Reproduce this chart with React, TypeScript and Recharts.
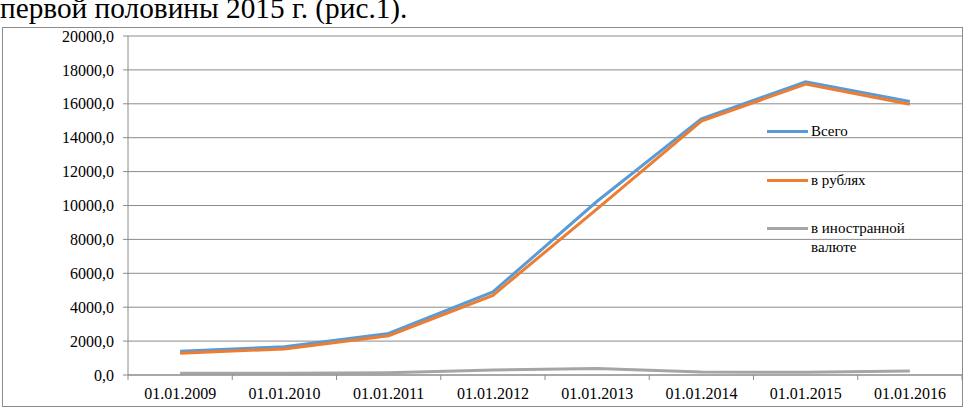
import React from 'react';
import { LineChart, Line, XAxis, YAxis, CartesianGrid } from 'recharts';

const dates = [
  '01.01.2009',
  '01.01.2010',
  '01.01.2011',
  '01.01.2012',
  '01.01.2013',
  '01.01.2014',
  '01.01.2015',
  '01.01.2016',
];
const totalValues = [1400, 1670, 2450, 4900, 10250, 15120, 17300, 16130];
const rubleValues = [1290, 1540, 2320, 4700, 9800, 14980, 17170, 15970];
const foreignValues = [100, 110, 140, 300, 380, 170, 160, 230];
const yTicks = [0, 2000, 4000, 6000, 8000, 10000, 12000, 14000, 16000, 18000, 20000];

const seriesList = [
  { key: 'total', name: 'Всего', color: '#5B9BD5' },
  { key: 'rub', name: 'в рублях', color: '#ED7D31' },
  { key: 'foreign', name: 'в иностранной валюте', color: '#A5A5A5' },
];

const data = dates.map((d, i) => ({
  date: d,
  total: totalValues[i],
  rub: rubleValues[i],
  foreign: foreignValues[i],
}));

const FONT = 'Liberation Serif, Times New Roman, serif';
const AXIS_COLOR = '#8c8c8c';

const W = 965;
const H = 407;
const PLOT_LEFT = 128;
const PLOT_RIGHT = 962;
const PLOT_TOP = 36;
const PLOT_BOTTOM = 375;
const band = (PLOT_RIGHT - PLOT_LEFT) / dates.length;

function XTick({ x, y, payload }: any) {
  const left = x - band / 2;
  return (
    <g>
      <line x1={left} y1={y} x2={left} y2={y + 5} stroke={AXIS_COLOR} />
      {payload.index === dates.length - 1 && (
        <line x1={left + band} y1={y} x2={left + band} y2={y + 5} stroke={AXIS_COLOR} />
      )}
      <text x={x} y={y + 24} textAnchor="middle" fontSize={16} style={{ fontFamily: FONT }} fill="#000">
        {payload.value}
      </text>
    </g>
  );
}

function YTick({ x, y, payload }: any) {
  return (
    <text x={x} y={y} dy="0.355em" textAnchor="end" fontSize={16} style={{ fontFamily: FONT }} fill="#000">
      {payload.value.toFixed(1).replace('.', ',')}
    </text>
  );
}

function LegendBox() {
  return (
    <div
      style={{
        position: 'absolute',
        left: 767,
        top: 122,
        fontFamily: FONT,
        fontSize: 15,
        color: '#000',
        lineHeight: '19px',
      }}
    >
      {seriesList.map((s) => (
        <div key={s.key} style={{ display: 'flex', alignItems: 'flex-start', height: 48.5 }}>
          <div
            style={{
              width: 41,
              height: 3,
              background: s.color,
              marginTop: 8,
              marginRight: 3,
              flex: 'none',
            }}
          />
          <div style={{ width: 115 }}>{s.name}</div>
        </div>
      ))}
    </div>
  );
}

export default function App() {
  return (
    <div style={{ position: 'absolute', left: 0, top: 0, width: W, height: H, background: '#fff', overflow: 'hidden' }}>
      <div
        style={{
          position: 'absolute',
          left: 0,
          top: -8,
          fontFamily: FONT,
          fontSize: 29.3,
          lineHeight: 'normal',
          color: '#000',
          whiteSpace: 'nowrap',
        }}
      >
        первой половины 2015 г. (рис.1).
      </div>
      <div
        style={{
          position: 'absolute',
          left: 2,
          top: 27,
          width: 961,
          height: 380,
          border: `1px solid ${AXIS_COLOR}`,
          boxSizing: 'border-box',
        }}
      />
      <div style={{ position: 'absolute', left: 0, top: 0 }}>
        <LineChart
          width={W}
          height={H}
          data={data}
          margin={{ top: PLOT_TOP, right: W - PLOT_RIGHT, left: 8, bottom: 2 }}
        >
          <CartesianGrid vertical={false} stroke={AXIS_COLOR} />
          <XAxis
            dataKey="date"
            scale="band"
            height={H - PLOT_BOTTOM - 2}
            axisLine={{ stroke: AXIS_COLOR }}
            tickLine={false}
            tickSize={0}
            tickMargin={0}
            interval={0}
            tick={<XTick />}
          />
          <YAxis
            width={PLOT_LEFT - 8}
            domain={[0, 20000]}
            ticks={yTicks}
            interval={0}
            axisLine={{ stroke: AXIS_COLOR }}
            tickLine={{ stroke: AXIS_COLOR }}
            tickSize={5}
            tickMargin={9}
            tick={<YTick />}
          />
          {seriesList.map((s) => (
            <Line
              key={s.key}
              dataKey={s.key}
              name={s.name}
              type="linear"
              stroke={s.color}
              strokeWidth={3}
              dot={false}
              isAnimationActive={false}
            />
          ))}
        </LineChart>
      </div>
      <LegendBox />
    </div>
  );
}
